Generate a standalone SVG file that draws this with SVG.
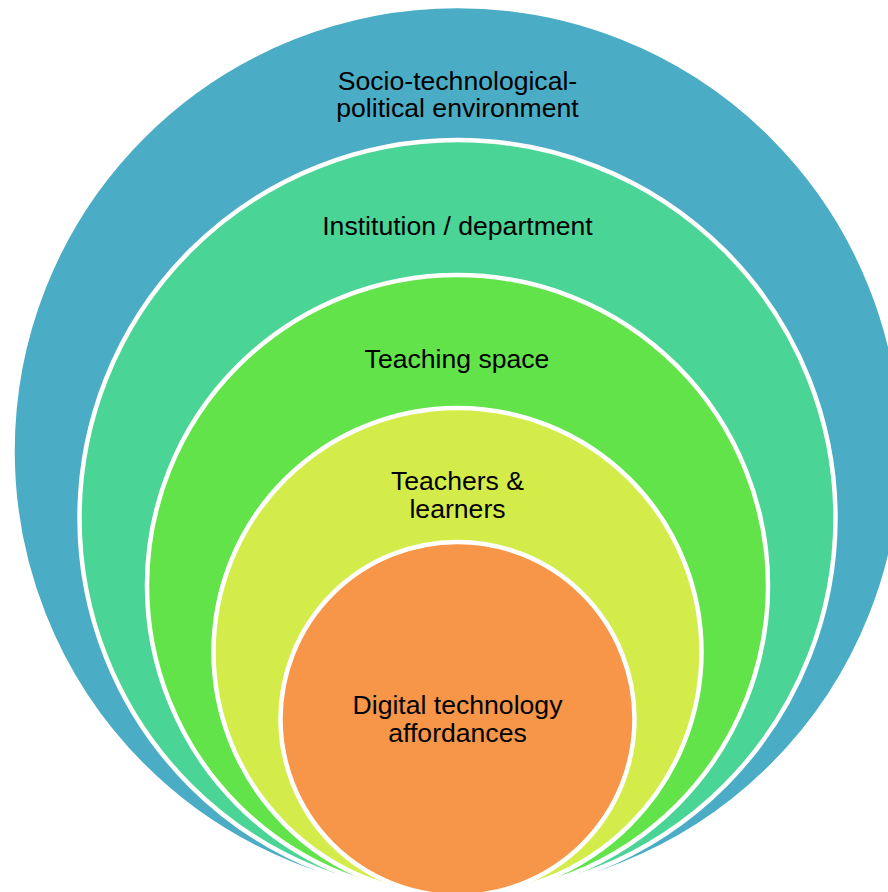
<svg xmlns="http://www.w3.org/2000/svg" width="888" height="892" viewBox="0 0 888 892">
<style>
.ring{stroke:#FFFFFF;stroke-width:4.5}
.lbl{font-family:"Liberation Sans",Arial,sans-serif;font-size:26.6px;fill:#000000;text-anchor:middle}
</style>
<rect width="888" height="892" fill="#FFFFFF"/>
<g id="env">
<circle class="ring" cx="457.5" cy="451" r="445" fill="#4BACC6"/>
<text class="lbl" x="457.5" y="90">Socio-technological-</text>
<text class="lbl" x="457.5" y="117">political environment</text>
</g>
<g id="institution">
<circle class="ring" cx="457.5" cy="518" r="378" fill="#4AD495"/>
<text class="lbl" x="457.5" y="235">Institution / department</text>
</g>
<g id="teaching-space">
<circle class="ring" cx="457.5" cy="585.5" r="310.5" fill="#62E34A"/>
<text class="lbl" x="457" y="368">Teaching space</text>
</g>
<g id="teachers">
<circle class="ring" cx="457.5" cy="652" r="244" fill="#D4EC4A"/>
<text class="lbl" x="457.5" y="490">Teachers &amp;</text>
<text class="lbl" x="457.5" y="517.5">learners</text>
</g>
<g id="digital">
<circle class="ring" cx="457.5" cy="719" r="177" fill="#F79648"/>
<text class="lbl" x="457.5" y="713.5">Digital technology</text>
<text class="lbl" x="457.5" y="741.5">affordances</text>
</g>
<g id="connectors"/>
</svg>
